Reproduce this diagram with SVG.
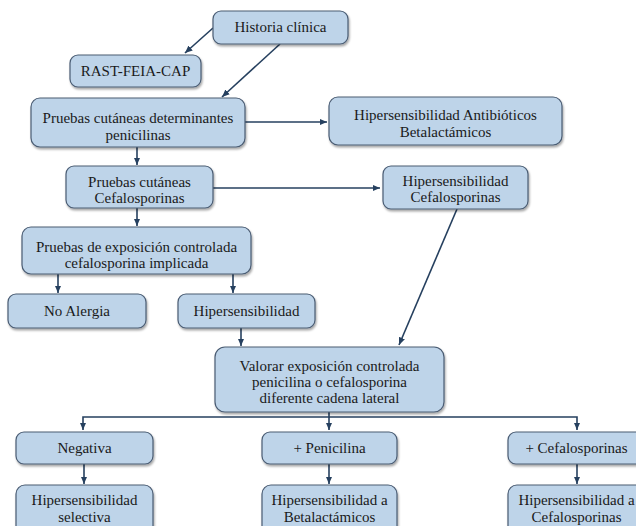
<svg xmlns="http://www.w3.org/2000/svg" width="636" height="526" viewBox="0 0 636 526">
  <style>
    .box { fill: #bed4e9; stroke: #4a5c73; stroke-width: 1.2; filter: url(#shadow); }
    .lbl { font-family: "Liberation Serif", "DejaVu Serif", serif; font-size: 15px; fill: #1a1a1a; text-anchor: middle; }
    .conn { fill: none; stroke: #26405f; stroke-width: 1.6; }
  </style>
  <defs>
    <filter id="shadow" x="-10%" y="-20%" width="120%" height="150%">
      <feDropShadow dx="1" dy="2" stdDeviation="1" flood-color="#000000" flood-opacity="0.35"/>
    </filter>
    <marker id="arrow" markerUnits="userSpaceOnUse" markerWidth="8" markerHeight="8" viewBox="0 0 8 8" refX="7.5" refY="4" orient="auto">
      <path d="M0,0.8 L7.5,4 L0,7.2 Z" fill="#26405f"/>
    </marker>
  </defs>

  <rect width="636" height="526" fill="#ffffff"/>

  <!-- connectors -->
  <g id="connectors">
    <path class="conn" d="M213,28 L185,53" marker-end="url(#arrow)"/>
    <path class="conn" d="M280,44 L222,97" marker-end="url(#arrow)"/>
    <path class="conn" d="M245,122 L327,122" marker-end="url(#arrow)"/>
    <path class="conn" d="M137,147 L137,165" marker-end="url(#arrow)"/>
    <path class="conn" d="M213,188 L380,188" marker-end="url(#arrow)"/>
    <path class="conn" d="M457,209 L399,345" marker-end="url(#arrow)"/>
    <path class="conn" d="M137,208 L137,226" marker-end="url(#arrow)"/>
    <path class="conn" d="M58,274 L58,293" marker-end="url(#arrow)"/>
    <path class="conn" d="M233,274 L233,293" marker-end="url(#arrow)"/>
    <path class="conn" d="M241,328 L241,346" marker-end="url(#arrow)"/>
    <path class="conn" d="M329,412 L329,417 L83,417 L83,430" marker-end="url(#arrow)"/>
    <path class="conn" d="M329,417 L329,430" marker-end="url(#arrow)"/>
    <path class="conn" d="M329,417 L577,417 L577,430" marker-end="url(#arrow)"/>
    <path class="conn" d="M84,464 L84,484" marker-end="url(#arrow)"/>
    <path class="conn" d="M329,464 L329,484" marker-end="url(#arrow)"/>
    <path class="conn" d="M577,464 L577,484" marker-end="url(#arrow)"/>
  </g>

  <g id="historia">
    <rect class="box" x="213" y="11" width="135" height="33" rx="8"/>
    <text class="lbl" x="280.5" y="32">Historia clínica</text>
  </g>
  <g id="rast">
    <rect class="box" x="70" y="55" width="131" height="32" rx="8"/>
    <text class="lbl" x="135.5" y="76">RAST-FEIA-CAP</text>
  </g>
  <g id="pruebas-penicilinas">
    <rect class="box" x="31" y="98" width="214" height="49" rx="9"/>
    <text class="lbl" x="138" y="123">Pruebas cutáneas determinantes</text>
    <text class="lbl" x="138" y="140">penicilinas</text>
  </g>
  <g id="hiper-betalactamicos">
    <rect class="box" x="329" y="97" width="233" height="48" rx="9"/>
    <text class="lbl" x="445.5" y="120">Hipersensibilidad Antibióticos</text>
    <text class="lbl" x="445.5" y="137">Betalactámicos</text>
  </g>
  <g id="pruebas-cefalosporinas">
    <rect class="box" x="66" y="166" width="147" height="42" rx="8"/>
    <text class="lbl" x="139.5" y="187">Pruebas cutáneas</text>
    <text class="lbl" x="139.5" y="203">Cefalosporinas</text>
  </g>
  <g id="hiper-cefalosporinas">
    <rect class="box" x="383" y="166" width="145" height="43" rx="8"/>
    <text class="lbl" x="455.5" y="186">Hipersensibilidad</text>
    <text class="lbl" x="455.5" y="202">Cefalosporinas</text>
  </g>
  <g id="exposicion-cefalosporina">
    <rect class="box" x="22" y="227" width="229" height="47" rx="9"/>
    <text class="lbl" x="136.5" y="252">Pruebas de exposición controlada</text>
    <text class="lbl" x="136.5" y="268">cefalosporina implicada</text>
  </g>
  <g id="no-alergia">
    <rect class="box" x="8" y="294" width="138" height="34" rx="8"/>
    <text class="lbl" x="77" y="316">No Alergia</text>
  </g>
  <g id="hipersensibilidad">
    <rect class="box" x="178" y="294" width="137" height="34" rx="8"/>
    <text class="lbl" x="246.5" y="316">Hipersensibilidad</text>
  </g>
  <g id="valorar">
    <rect class="box" x="215" y="347" width="229" height="65" rx="10"/>
    <text class="lbl" x="329.5" y="371">Valorar exposición controlada</text>
    <text class="lbl" x="329.5" y="387">penicilina o cefalosporina</text>
    <text class="lbl" x="329.5" y="403">diferente cadena lateral</text>
  </g>
  <g id="negativa">
    <rect class="box" x="16" y="432" width="137" height="32" rx="8"/>
    <text class="lbl" x="84.5" y="453">Negativa</text>
  </g>
  <g id="mas-penicilina">
    <rect class="box" x="262" y="432" width="135" height="32" rx="8"/>
    <text class="lbl" x="329.5" y="453">+ Penicilina</text>
  </g>
  <g id="mas-cefalosporinas">
    <rect class="box" x="508" y="432" width="137" height="32" rx="8"/>
    <text class="lbl" x="576.5" y="453">+ Cefalosporinas</text>
  </g>
  <g id="hiper-selectiva">
    <rect class="box" x="16" y="485" width="137" height="55" rx="9"/>
    <text class="lbl" x="84.5" y="505">Hipersensibilidad</text>
    <text class="lbl" x="84.5" y="522">selectiva</text>
  </g>
  <g id="hiper-a-betalactamicos">
    <rect class="box" x="262" y="485" width="135" height="55" rx="9"/>
    <text class="lbl" x="329.5" y="505">Hipersensibilidad a</text>
    <text class="lbl" x="329.5" y="522">Betalactámicos</text>
  </g>
  <g id="hiper-a-cefalosporinas">
    <rect class="box" x="508" y="485" width="137" height="55" rx="9"/>
    <text class="lbl" x="576.5" y="505">Hipersensibilidad a</text>
    <text class="lbl" x="576.5" y="522">Cefalosporinas</text>
  </g>
</svg>
